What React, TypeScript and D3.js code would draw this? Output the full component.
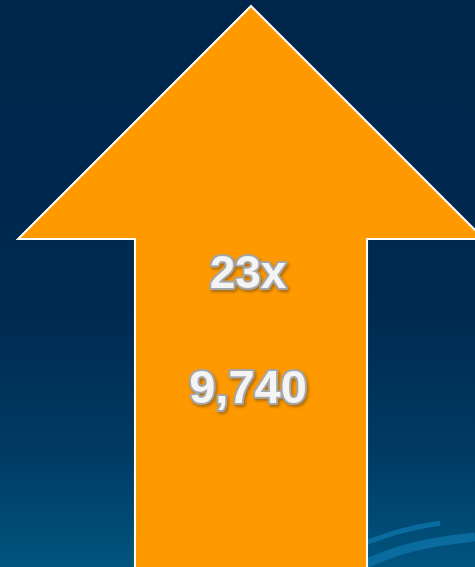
import React, { useRef, useEffect } from "react";
import * as d3 from "d3";

// values shown on the arrow
const labels = ["23x", "9,740"];
const values = [23, 9740];
const labelFont = [46, 47];

const W = 475;
const H = 567;

const App = () => {
  const ref = useRef<SVGSVGElement>(null);

  useEffect(() => {
    const svg = d3.select(ref.current);
    svg.selectAll("*").remove();
    svg.attr("width", W).attr("height", H);

    const defs = svg.append("defs");
    const bg = defs
      .append("linearGradient")
      .attr("id", "bg")
      .attr("x1", 0)
      .attr("y1", 0)
      .attr("x2", 0)
      .attr("y2", 1);
    const stops: [string, string][] = [
      ["0%", "#00254a"],
      ["55%", "#002a51"],
      ["79%", "#003a62"],
      ["92%", "#004a74"],
      ["100%", "#00557f"],
    ];
    stops.forEach(([o, c]) => bg.append("stop").attr("offset", o).attr("stop-color", c));

    const shadow = defs.append("filter").attr("id", "sh").attr("x", "-20%").attr("y", "-20%").attr("width", "140%").attr("height", "140%");
    shadow
      .append("feDropShadow")
      .attr("dx", 1.5)
      .attr("dy", 2)
      .attr("stdDeviation", 1.5)
      .attr("flood-color", "#6b4a10")
      .attr("flood-opacity", 0.6);

    svg.append("rect").attr("width", W).attr("height", H).attr("fill", "url(#bg)");

    // decorative swooshes bottom right
    const line = d3.line().curve(d3.curveBasis);
    const swooshes: [number, number][][] = [
      [[360, 545], [400, 530], [440, 523]],
      [[360, 566], [410, 545], [475, 537]],
    ];
    const widths = [5, 9];
    swooshes.forEach((s, i) => {
      svg
        .append("path")
        .attr("d", line(s))
        .attr("fill", "none")
        .attr("stroke", "#0a6b9e")
        .attr("stroke-width", widths[i]);
    });

    // arrow geometry from scales
    const x = d3.scaleLinear().domain([-1, 1]).range([18, 484]);
    const y = d3.scaleLinear().domain([0, 1]).range([6, 239]);
    const shaft = 0.498;
    const pts: [number, number][] = [
      [x(0), y(0)],
      [x(1), y(1)],
      [x(shaft), y(1)],
      [x(shaft), H + 10],
      [x(-shaft), H + 10],
      [x(-shaft), y(1)],
      [x(-1), y(1)],
    ];
    svg
      .append("path")
      .attr("d", d3.line()(pts) + "Z")
      .attr("fill", "#ff9900")
      .attr("stroke", "#ffffff")
      .attr("stroke-width", 2)
      .attr("stroke-linejoin", "miter");

    const ty = d3.scaleOrdinal<string, number>().domain(labels).range([288, 403]);
    svg
      .selectAll("text.lbl")
      .data(labels)
      .enter()
      .append("text")
      .attr("class", "lbl")
      .attr("x", x(0) - 3)
      .attr("y", (d) => ty(d))
      .attr("text-anchor", "middle")
      .attr("font-family", "Liberation Sans, Arial, sans-serif")
      .attr("font-weight", "bold")
      .attr("font-size", (d, i) => labelFont[i])
      .attr("fill", "#f4f4f4")
      .attr("stroke", "#a6a6a6")
      .attr("stroke-width", 4)
      .attr("stroke-linejoin", "round")
      .attr("paint-order", "stroke")
      .attr("filter", "url(#sh)")
      .attr("data-value", (d, i) => values[i])
      .text((d) => d);
  }, []);

  return <svg ref={ref} style={{ position: "fixed", left: 0, top: 0, display: "block" }}></svg>;
};

export default App;
